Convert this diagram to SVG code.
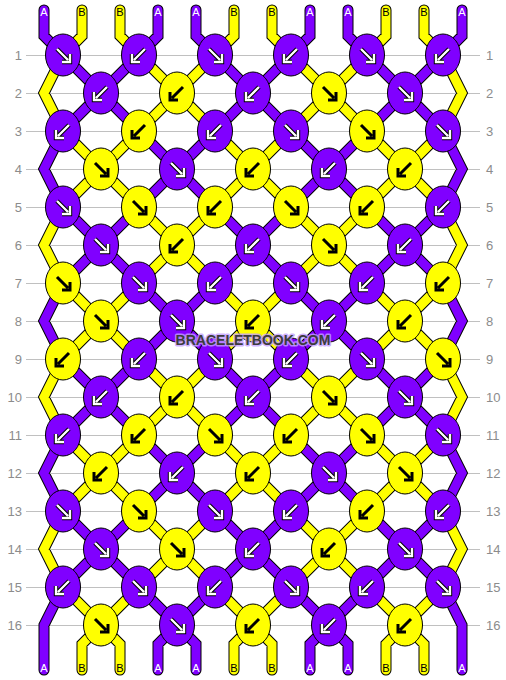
<svg xmlns="http://www.w3.org/2000/svg" xmlns:xlink="http://www.w3.org/1999/xlink" width="506" height="680" viewBox="0 0 506 680">
<style>
.ln{stroke:#c0c0c0;stroke-width:1}
.num{font-family:"Liberation Sans",Arial,sans-serif;font-size:13px;fill:#8c8c8c}
.nl{text-anchor:end}
.o{fill:none;stroke:#000;stroke-width:11;stroke-linejoin:miter;stroke-linecap:round}
.p{fill:none;stroke:#8000ff;stroke-width:9;stroke-linejoin:miter;stroke-linecap:round}
.y{fill:none;stroke:#ffff00;stroke-width:9;stroke-linejoin:miter;stroke-linecap:round}
.kp{fill:#8000ff;stroke:#000;stroke-width:1}
.ky{fill:#ffff00;stroke:#000;stroke-width:1}
.ao{stroke:#000;stroke-width:4.4}
.ai{stroke:#fff;stroke-width:2.4}
.ab{stroke:#000;stroke-width:3}
.lab{font-family:"Liberation Sans",Arial,sans-serif;font-size:11px;text-anchor:middle}
.la{fill:#fff}
.lb{fill:#000}
.wm{font-family:"Liberation Sans",Arial,sans-serif;font-size:14px;font-weight:bold;text-anchor:middle;fill:#3c3c3c;stroke:#c4a0ff;stroke-opacity:0.8;stroke-width:3;paint-order:stroke;stroke-linejoin:round}
</style>
<defs>
<path id="sr" fill="none" d="M-6,-6L5,5M7,-1V7H-1"/>
<path id="sl" fill="none" d="M6,-6L-5,5M-7,-1V7H1"/>
<g id="wr"><use href="#sr" class="ao"/><use href="#sr" class="ai"/></g>
<g id="wl"><use href="#sl" class="ao"/><use href="#sl" class="ai"/></g>
<g id="br"><use href="#sr" class="ab"/></g>
<g id="bl"><use href="#sl" class="ab"/></g>
<path id="gP" d="M44,10V36L63,55M158,10V36L139,55M196,10V36L215,55M310,10V36L291,55M348,10V36L367,55M462,10V36L443,55
M63,55L139,131M139,55L63,131M215,55L291,131M291,55L215,131M367,55L443,131M443,55L367,131
M139,131L215,207M215,131L139,207M291,131L367,207M367,131L291,207
M63,207L139,283M139,207L63,283M215,207L291,283M291,207L215,283M367,207L443,283M443,207L367,283
M139,283L215,359M215,283L139,359M291,283L367,359M367,283L291,359
M63,359L139,435M139,359L63,435M215,359L291,435M291,359L215,435M367,359L443,435M443,359L367,435
M139,435L215,511M215,435L139,511M291,435L367,511M367,435L291,511
M63,511L139,587M139,511L63,587M215,511L291,587M291,511L215,587M367,511L443,587M443,511L367,587
M139,587L177,625L158,644V670M215,587L177,625L196,644V670M291,587L329,625L310,644V670M367,587L329,625L348,644V670
M63,131L44,169L63,207M63,283L44,321L63,359M63,435L44,473L63,511M63,587L44,625V670
M443,131L462,169L443,207M443,283L462,321L443,359M443,435L462,473L443,511M443,587L462,625V670"/>
<path id="gY" d="M82,10V36L63,55M120,10V36L139,55M234,10V36L215,55M272,10V36L291,55M386,10V36L367,55M424,10V36L443,55
M139,55L215,131M215,55L139,131M291,55L367,131M367,55L291,131
M63,131L139,207M139,131L63,207M215,131L291,207M291,131L215,207M367,131L443,207M443,131L367,207
M139,207L215,283M215,207L139,283M291,207L367,283M367,207L291,283
M63,283L139,359M139,283L63,359M215,283L291,359M291,283L215,359M367,283L443,359M443,283L367,359
M139,359L215,435M215,359L139,435M291,359L367,435M367,359L291,435
M63,435L139,511M139,435L63,511M215,435L291,511M291,435L215,511M367,435L443,511M443,435L367,511
M139,511L215,587M215,511L139,587M291,511L367,587M367,511L291,587
M63,587L101,625L82,644V670M139,587L101,625L120,644V670M215,587L253,625L234,644V670M291,587L253,625L272,644V670M367,587L405,625L386,644V670M443,587L405,625L424,644V670
M63,55L44,93L63,131M63,207L44,245L63,283M63,359L44,397L63,435M63,511L44,549L63,587
M443,55L462,93L443,131M443,207L462,245L443,283M443,359L462,397L443,435M443,511L462,549L443,587"/>
</defs>
<rect width="506" height="680" fill="#fff"/>
<g id="grid">
<path class="ln" d="M26,55.5H480M26,93.5H480M26,131.5H480M26,169.5H480M26,207.5H480M26,245.5H480M26,283.5H480M26,321.5H480M26,359.5H480M26,397.5H480M26,435.5H480M26,473.5H480M26,511.5H480M26,549.5H480M26,587.5H480M26,625.5H480"/>
<g class="num nl">
<text x="22" y="59.5">1</text><text x="22" y="97.5">2</text><text x="22" y="135.5">3</text><text x="22" y="173.5">4</text><text x="22" y="211.5">5</text><text x="22" y="249.5">6</text><text x="22" y="287.5">7</text><text x="22" y="325.5">8</text><text x="22" y="363.5">9</text><text x="22" y="401.5">10</text><text x="22" y="439.5">11</text><text x="22" y="477.5">12</text><text x="22" y="515.5">13</text><text x="22" y="553.5">14</text><text x="22" y="591.5">15</text><text x="22" y="629.5">16</text>
</g>
<g class="num">
<text x="486" y="59.5">1</text><text x="486" y="97.5">2</text><text x="486" y="135.5">3</text><text x="486" y="173.5">4</text><text x="486" y="211.5">5</text><text x="486" y="249.5">6</text><text x="486" y="287.5">7</text><text x="486" y="325.5">8</text><text x="486" y="363.5">9</text><text x="486" y="401.5">10</text><text x="486" y="439.5">11</text><text x="486" y="477.5">12</text><text x="486" y="515.5">13</text><text x="486" y="553.5">14</text><text x="486" y="591.5">15</text><text x="486" y="629.5">16</text>
</g>
</g>
<g id="connectors">
<use href="#gP" class="o"/>
<use href="#gY" class="o"/>
<use href="#gP" class="p"/>
<use href="#gY" class="y"/>
</g>
<g id="labels" class="lab">
<text class="la" x="44" y="16">A</text><text class="lb" x="82" y="16">B</text><text class="lb" x="120" y="16">B</text><text class="la" x="158" y="16">A</text><text class="la" x="196" y="16">A</text><text class="lb" x="234" y="16">B</text><text class="lb" x="272" y="16">B</text><text class="la" x="310" y="16">A</text><text class="la" x="348" y="16">A</text><text class="lb" x="386" y="16">B</text><text class="lb" x="424" y="16">B</text><text class="la" x="462" y="16">A</text>
<text class="la" x="44" y="672">A</text><text class="lb" x="82" y="672">B</text><text class="lb" x="120" y="672">B</text><text class="la" x="158" y="672">A</text><text class="la" x="196" y="672">A</text><text class="lb" x="234" y="672">B</text><text class="lb" x="272" y="672">B</text><text class="la" x="310" y="672">A</text><text class="la" x="348" y="672">A</text><text class="lb" x="386" y="672">B</text><text class="lb" x="424" y="672">B</text><text class="la" x="462" y="672">A</text>
</g>
<g id="knots">
<g id="k1-1"><ellipse class="kp" cx="63" cy="55" rx="17.5" ry="21"/><use href="#wr" x="63" y="55"/></g>
<g id="k1-2"><ellipse class="kp" cx="139" cy="55" rx="17.5" ry="21"/><use href="#wl" x="139" y="55"/></g>
<g id="k1-3"><ellipse class="kp" cx="215" cy="55" rx="17.5" ry="21"/><use href="#wr" x="215" y="55"/></g>
<g id="k1-4"><ellipse class="kp" cx="291" cy="55" rx="17.5" ry="21"/><use href="#wl" x="291" y="55"/></g>
<g id="k1-5"><ellipse class="kp" cx="367" cy="55" rx="17.5" ry="21"/><use href="#wr" x="367" y="55"/></g>
<g id="k1-6"><ellipse class="kp" cx="443" cy="55" rx="17.5" ry="21"/><use href="#wl" x="443" y="55"/></g>

<g id="k2-1"><ellipse class="kp" cx="101" cy="93" rx="17.5" ry="21"/><use href="#wl" x="101" y="93"/></g>
<g id="k2-2"><ellipse class="ky" cx="177" cy="93" rx="17.5" ry="21"/><use href="#bl" x="177" y="93"/></g>
<g id="k2-3"><ellipse class="kp" cx="253" cy="93" rx="17.5" ry="21"/><use href="#wl" x="253" y="93"/></g>
<g id="k2-4"><ellipse class="ky" cx="329" cy="93" rx="17.5" ry="21"/><use href="#br" x="329" y="93"/></g>
<g id="k2-5"><ellipse class="kp" cx="405" cy="93" rx="17.5" ry="21"/><use href="#wr" x="405" y="93"/></g>

<g id="k3-1"><ellipse class="kp" cx="63" cy="131" rx="17.5" ry="21"/><use href="#wl" x="63" y="131"/></g>
<g id="k3-2"><ellipse class="ky" cx="139" cy="131" rx="17.5" ry="21"/><use href="#bl" x="139" y="131"/></g>
<g id="k3-3"><ellipse class="kp" cx="215" cy="131" rx="17.5" ry="21"/><use href="#wl" x="215" y="131"/></g>
<g id="k3-4"><ellipse class="kp" cx="291" cy="131" rx="17.5" ry="21"/><use href="#wr" x="291" y="131"/></g>
<g id="k3-5"><ellipse class="ky" cx="367" cy="131" rx="17.5" ry="21"/><use href="#br" x="367" y="131"/></g>
<g id="k3-6"><ellipse class="kp" cx="443" cy="131" rx="17.5" ry="21"/><use href="#wr" x="443" y="131"/></g>

<g id="k4-1"><ellipse class="ky" cx="101" cy="169" rx="17.5" ry="21"/><use href="#br" x="101" y="169"/></g>
<g id="k4-2"><ellipse class="kp" cx="177" cy="169" rx="17.5" ry="21"/><use href="#wr" x="177" y="169"/></g>
<g id="k4-3"><ellipse class="ky" cx="253" cy="169" rx="17.5" ry="21"/><use href="#bl" x="253" y="169"/></g>
<g id="k4-4"><ellipse class="kp" cx="329" cy="169" rx="17.5" ry="21"/><use href="#wl" x="329" y="169"/></g>
<g id="k4-5"><ellipse class="ky" cx="405" cy="169" rx="17.5" ry="21"/><use href="#bl" x="405" y="169"/></g>

<g id="k5-1"><ellipse class="kp" cx="63" cy="207" rx="17.5" ry="21"/><use href="#wr" x="63" y="207"/></g>
<g id="k5-2"><ellipse class="ky" cx="139" cy="207" rx="17.5" ry="21"/><use href="#br" x="139" y="207"/></g>
<g id="k5-3"><ellipse class="ky" cx="215" cy="207" rx="17.5" ry="21"/><use href="#bl" x="215" y="207"/></g>
<g id="k5-4"><ellipse class="ky" cx="291" cy="207" rx="17.5" ry="21"/><use href="#br" x="291" y="207"/></g>
<g id="k5-5"><ellipse class="ky" cx="367" cy="207" rx="17.5" ry="21"/><use href="#bl" x="367" y="207"/></g>
<g id="k5-6"><ellipse class="kp" cx="443" cy="207" rx="17.5" ry="21"/><use href="#wl" x="443" y="207"/></g>

<g id="k6-1"><ellipse class="kp" cx="101" cy="245" rx="17.5" ry="21"/><use href="#wr" x="101" y="245"/></g>
<g id="k6-2"><ellipse class="ky" cx="177" cy="245" rx="17.5" ry="21"/><use href="#bl" x="177" y="245"/></g>
<g id="k6-3"><ellipse class="kp" cx="253" cy="245" rx="17.5" ry="21"/><use href="#wl" x="253" y="245"/></g>
<g id="k6-4"><ellipse class="ky" cx="329" cy="245" rx="17.5" ry="21"/><use href="#br" x="329" y="245"/></g>
<g id="k6-5"><ellipse class="kp" cx="405" cy="245" rx="17.5" ry="21"/><use href="#wl" x="405" y="245"/></g>

<g id="k7-1"><ellipse class="ky" cx="63" cy="283" rx="17.5" ry="21"/><use href="#br" x="63" y="283"/></g>
<g id="k7-2"><ellipse class="kp" cx="139" cy="283" rx="17.5" ry="21"/><use href="#wr" x="139" y="283"/></g>
<g id="k7-3"><ellipse class="kp" cx="215" cy="283" rx="17.5" ry="21"/><use href="#wl" x="215" y="283"/></g>
<g id="k7-4"><ellipse class="kp" cx="291" cy="283" rx="17.5" ry="21"/><use href="#wr" x="291" y="283"/></g>
<g id="k7-5"><ellipse class="kp" cx="367" cy="283" rx="17.5" ry="21"/><use href="#wl" x="367" y="283"/></g>
<g id="k7-6"><ellipse class="ky" cx="443" cy="283" rx="17.5" ry="21"/><use href="#bl" x="443" y="283"/></g>

<g id="k8-1"><ellipse class="ky" cx="101" cy="321" rx="17.5" ry="21"/><use href="#br" x="101" y="321"/></g>
<g id="k8-2"><ellipse class="kp" cx="177" cy="321" rx="17.5" ry="21"/><use href="#wr" x="177" y="321"/></g>
<g id="k8-3"><ellipse class="ky" cx="253" cy="321" rx="17.5" ry="21"/><use href="#bl" x="253" y="321"/></g>
<g id="k8-4"><ellipse class="kp" cx="329" cy="321" rx="17.5" ry="21"/><use href="#wl" x="329" y="321"/></g>
<g id="k8-5"><ellipse class="ky" cx="405" cy="321" rx="17.5" ry="21"/><use href="#bl" x="405" y="321"/></g>

<g id="k9-1"><ellipse class="ky" cx="63" cy="359" rx="17.5" ry="21"/><use href="#bl" x="63" y="359"/></g>
<g id="k9-2"><ellipse class="kp" cx="139" cy="359" rx="17.5" ry="21"/><use href="#wl" x="139" y="359"/></g>
<g id="k9-3"><ellipse class="kp" cx="215" cy="359" rx="17.5" ry="21"/><use href="#wr" x="215" y="359"/></g>
<g id="k9-4"><ellipse class="kp" cx="291" cy="359" rx="17.5" ry="21"/><use href="#wl" x="291" y="359"/></g>
<g id="k9-5"><ellipse class="kp" cx="367" cy="359" rx="17.5" ry="21"/><use href="#wr" x="367" y="359"/></g>
<g id="k9-6"><ellipse class="ky" cx="443" cy="359" rx="17.5" ry="21"/><use href="#br" x="443" y="359"/></g>

<g id="k10-1"><ellipse class="kp" cx="101" cy="397" rx="17.5" ry="21"/><use href="#wl" x="101" y="397"/></g>
<g id="k10-2"><ellipse class="ky" cx="177" cy="397" rx="17.5" ry="21"/><use href="#bl" x="177" y="397"/></g>
<g id="k10-3"><ellipse class="kp" cx="253" cy="397" rx="17.5" ry="21"/><use href="#wl" x="253" y="397"/></g>
<g id="k10-4"><ellipse class="ky" cx="329" cy="397" rx="17.5" ry="21"/><use href="#br" x="329" y="397"/></g>
<g id="k10-5"><ellipse class="kp" cx="405" cy="397" rx="17.5" ry="21"/><use href="#wr" x="405" y="397"/></g>

<g id="k11-1"><ellipse class="kp" cx="63" cy="435" rx="17.5" ry="21"/><use href="#wl" x="63" y="435"/></g>
<g id="k11-2"><ellipse class="ky" cx="139" cy="435" rx="17.5" ry="21"/><use href="#bl" x="139" y="435"/></g>
<g id="k11-3"><ellipse class="ky" cx="215" cy="435" rx="17.5" ry="21"/><use href="#br" x="215" y="435"/></g>
<g id="k11-4"><ellipse class="ky" cx="291" cy="435" rx="17.5" ry="21"/><use href="#bl" x="291" y="435"/></g>
<g id="k11-5"><ellipse class="ky" cx="367" cy="435" rx="17.5" ry="21"/><use href="#br" x="367" y="435"/></g>
<g id="k11-6"><ellipse class="kp" cx="443" cy="435" rx="17.5" ry="21"/><use href="#wr" x="443" y="435"/></g>

<g id="k12-1"><ellipse class="ky" cx="101" cy="473" rx="17.5" ry="21"/><use href="#bl" x="101" y="473"/></g>
<g id="k12-2"><ellipse class="kp" cx="177" cy="473" rx="17.5" ry="21"/><use href="#wl" x="177" y="473"/></g>
<g id="k12-3"><ellipse class="ky" cx="253" cy="473" rx="17.5" ry="21"/><use href="#bl" x="253" y="473"/></g>
<g id="k12-4"><ellipse class="kp" cx="329" cy="473" rx="17.5" ry="21"/><use href="#wr" x="329" y="473"/></g>
<g id="k12-5"><ellipse class="ky" cx="405" cy="473" rx="17.5" ry="21"/><use href="#br" x="405" y="473"/></g>

<g id="k13-1"><ellipse class="kp" cx="63" cy="511" rx="17.5" ry="21"/><use href="#wr" x="63" y="511"/></g>
<g id="k13-2"><ellipse class="ky" cx="139" cy="511" rx="17.5" ry="21"/><use href="#br" x="139" y="511"/></g>
<g id="k13-3"><ellipse class="kp" cx="215" cy="511" rx="17.5" ry="21"/><use href="#wr" x="215" y="511"/></g>
<g id="k13-4"><ellipse class="kp" cx="291" cy="511" rx="17.5" ry="21"/><use href="#wl" x="291" y="511"/></g>
<g id="k13-5"><ellipse class="ky" cx="367" cy="511" rx="17.5" ry="21"/><use href="#bl" x="367" y="511"/></g>
<g id="k13-6"><ellipse class="kp" cx="443" cy="511" rx="17.5" ry="21"/><use href="#wl" x="443" y="511"/></g>

<g id="k14-1"><ellipse class="kp" cx="101" cy="549" rx="17.5" ry="21"/><use href="#wr" x="101" y="549"/></g>
<g id="k14-2"><ellipse class="ky" cx="177" cy="549" rx="17.5" ry="21"/><use href="#br" x="177" y="549"/></g>
<g id="k14-3"><ellipse class="kp" cx="253" cy="549" rx="17.5" ry="21"/><use href="#wl" x="253" y="549"/></g>
<g id="k14-4"><ellipse class="ky" cx="329" cy="549" rx="17.5" ry="21"/><use href="#bl" x="329" y="549"/></g>
<g id="k14-5"><ellipse class="kp" cx="405" cy="549" rx="17.5" ry="21"/><use href="#wr" x="405" y="549"/></g>

<g id="k15-1"><ellipse class="kp" cx="63" cy="587" rx="17.5" ry="21"/><use href="#wl" x="63" y="587"/></g>
<g id="k15-2"><ellipse class="kp" cx="139" cy="587" rx="17.5" ry="21"/><use href="#wr" x="139" y="587"/></g>
<g id="k15-3"><ellipse class="kp" cx="215" cy="587" rx="17.5" ry="21"/><use href="#wl" x="215" y="587"/></g>
<g id="k15-4"><ellipse class="kp" cx="291" cy="587" rx="17.5" ry="21"/><use href="#wr" x="291" y="587"/></g>
<g id="k15-5"><ellipse class="kp" cx="367" cy="587" rx="17.5" ry="21"/><use href="#wl" x="367" y="587"/></g>
<g id="k15-6"><ellipse class="kp" cx="443" cy="587" rx="17.5" ry="21"/><use href="#wr" x="443" y="587"/></g>

<g id="k16-1"><ellipse class="ky" cx="101" cy="625" rx="17.5" ry="21"/><use href="#br" x="101" y="625"/></g>
<g id="k16-2"><ellipse class="kp" cx="177" cy="625" rx="17.5" ry="21"/><use href="#wr" x="177" y="625"/></g>
<g id="k16-3"><ellipse class="ky" cx="253" cy="625" rx="17.5" ry="21"/><use href="#bl" x="253" y="625"/></g>
<g id="k16-4"><ellipse class="kp" cx="329" cy="625" rx="17.5" ry="21"/><use href="#wl" x="329" y="625"/></g>
<g id="k16-5"><ellipse class="ky" cx="405" cy="625" rx="17.5" ry="21"/><use href="#bl" x="405" y="625"/></g>
</g>
<text class="wm" x="253" y="345">BRACELETBOOK.COM</text>
</svg>
